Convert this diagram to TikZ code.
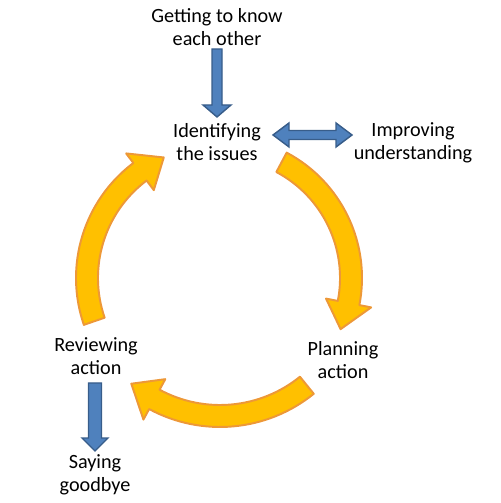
\documentclass[tikz,border=0pt]{standalone}
\usepackage{fontspec}
\setmainfont{Carlito}
\usetikzlibrary{calc}

\definecolor{cyclefill}{RGB}{255,192,0}
\definecolor{cycleline}{RGB}{237,152,56}
\definecolor{bluefill}{RGB}{79,129,189}
\definecolor{blueline}{RGB}{56,93,138}

\tikzset{
  label text/.style={align=center, inner sep=0pt, font=\fontsize{11.5}{13.4}\selectfont},
  cycle arrow/.style={fill=cyclefill, draw=cycleline, line width=1.1pt, line join=round},
  blue arrow/.style={fill=bluefill, draw=blueline, line width=0.8pt, line join=miter}
}

% curved arrow of the cycle: centre, radius, start angle, head angle, tip angle
\newcommand{\cyclearrow}[5]{%
  \filldraw[cycle arrow] ($(#1)+(#3:#2+11)$) arc[start angle=#3, end angle=#4, radius=#2+11]
    -- ($(#1)+(#4:#2+23)$) -- ($(#1)+(#5:#2)$) -- ($(#1)+(#4:#2-23)$)
    -- ($(#1)+(#4:#2-11)$) arc[start angle=#4, end angle=#3, radius=#2-11] -- cycle;}

% straight block arrow: from, to, half shaft, half head, head length
\newcommand{\blockarrow}[5]{%
  \filldraw[blue arrow] ($(#1)!#3!90:(#2)$) -- ($($(#2)!#5!(#1)$)!#3!-90:(#1)$)
    -- ($($(#2)!#5!(#1)$)!#4!-90:(#1)$) -- (#2) -- ($($(#2)!#5!(#1)$)!#4!90:(#1)$)
    -- ($($(#2)!#5!(#1)$)!#3!90:(#1)$) -- ($(#1)!#3!-90:(#2)$) -- cycle;}

\begin{document}
\begin{tikzpicture}[x=0.02cm, y=0.02cm]
  \useasboundingbox (0,0) rectangle (500,503);

  % texts
  \node[label text] (know) at (217,476) {Getting to know\\each other};
  \node[label text] (issues) at (217,361) {Identifying\\the issues};
  \node[label text] (improve) at (413,360) {Improving\\understanding};
  \node[label text] (plan) at (343,143) {Planning\\action};
  \node[label text] (review) at (96,147) {Reviewing\\action};
  \node[label text] (bye) at (95,28) {Saying\\goodbye};

  % the cycle
  \coordinate (mid) at (220,225);
  \cyclearrow{mid}{133}{199}{127}{115}
  \cyclearrow{mid}{131}{62}{-11}{-23}
  \cyclearrow{mid}{138}{-51}{-118.4}{-130}

  % blue arrows
  \coordinate (know end) at (217,454);
  \coordinate (issues end) at (217,386);
  \blockarrow{know end}{issues end}{1mm}{2.8mm}{2.4mm}

  \coordinate (review end) at (95,120);
  \coordinate (bye end) at (95,52);
  \blockarrow{review end}{bye end}{1.3mm}{2.6mm}{2.6mm}

  \coordinate (issues side) at (273,368);
  \coordinate (improve side) at (352,368);
  \filldraw[blue arrow] (issues side)
    -- ($($(issues side)!3.2mm!(improve side)$)!2.4mm!90:(improve side)$)
    -- ($($(issues side)!3.2mm!(improve side)$)!0.9mm!90:(improve side)$)
    -- ($($(improve side)!3.2mm!(issues side)$)!0.9mm!-90:(issues side)$)
    -- ($($(improve side)!3.2mm!(issues side)$)!2.4mm!-90:(issues side)$)
    -- (improve side)
    -- ($($(improve side)!3.2mm!(issues side)$)!2.4mm!90:(issues side)$)
    -- ($($(improve side)!3.2mm!(issues side)$)!0.9mm!90:(issues side)$)
    -- ($($(issues side)!3.2mm!(improve side)$)!0.9mm!-90:(improve side)$)
    -- ($($(issues side)!3.2mm!(improve side)$)!2.4mm!-90:(improve side)$)
    -- cycle;
\end{tikzpicture}
\end{document}
